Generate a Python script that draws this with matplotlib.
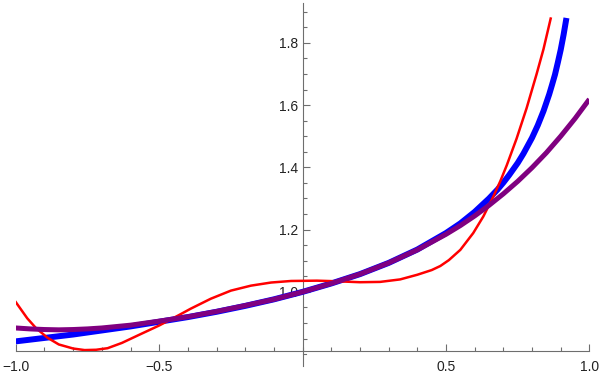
import numpy as np
import matplotlib
matplotlib.use("Agg")
import matplotlib.pyplot as plt
from matplotlib.ticker import MultipleLocator

# values
blue_x = [-1.0, -0.9, -0.8, -0.7, -0.6, -0.5, -0.4, -0.3, -0.2, -0.1, 0.0, 0.1, 0.2, 0.3,
          0.4, 0.5, 0.55, 0.6, 0.65, 0.68, 0.7, 0.72, 0.75, 0.77, 0.8, 0.82, 0.84, 0.85,
          0.86, 0.87, 0.88, 0.89, 0.9, 0.91, 0.92]
blue_y = [0.841, 0.852, 0.863, 0.876, 0.889, 0.904, 0.919, 0.936, 0.955, 0.976, 1.0, 1.027,
          1.057, 1.093, 1.136, 1.189, 1.220, 1.257, 1.300, 1.329, 1.351, 1.375, 1.414, 1.444,
          1.495, 1.535, 1.581, 1.608, 1.635, 1.666, 1.698, 1.737, 1.778, 1.826, 1.880]

red_x = [-1.0, -0.96, -0.93, -0.89, -0.85, -0.80, -0.76, -0.72, -0.68, -0.63, -0.57, -0.50,
         -0.43, -0.39, -0.32, -0.25, -0.18, -0.11, -0.04, 0.05, 0.12, 0.2, 0.27, 0.34, 0.40,
         0.45, 0.48, 0.51, 0.55, 0.595, 0.63, 0.665, 0.69, 0.712, 0.746, 0.781, 0.816, 0.84,
         0.865]
red_y = [0.967, 0.915, 0.884, 0.853, 0.831, 0.818, 0.813, 0.814, 0.819, 0.836, 0.862, 0.892,
         0.926, 0.946, 0.978, 1.004, 1.020, 1.030, 1.035, 1.036, 1.034, 1.031, 1.032, 1.040,
         1.055, 1.070, 1.083, 1.102, 1.135, 1.189, 1.242, 1.306, 1.357, 1.407, 1.492, 1.590,
         1.700, 1.780, 1.878]

purple_x = [-1.0, -0.95, -0.9, -0.85, -0.8, -0.75, -0.7, -0.6, -0.5, -0.4, -0.3, -0.2, -0.1,
            0.0, 0.1, 0.2, 0.3, 0.4, 0.5, 0.55, 0.6, 0.65, 0.7, 0.75, 0.8, 0.85, 0.9, 0.95,
            1.0]
purple_y = [0.884, 0.881, 0.879, 0.878, 0.879, 0.881, 0.884, 0.893, 0.906, 0.920, 0.937,
            0.956, 0.976, 1.0, 1.027, 1.057, 1.093, 1.135, 1.185, 1.213, 1.244, 1.278, 1.315,
            1.355, 1.399, 1.447, 1.500, 1.557, 1.619]

xticks = [-1.0, -0.5, 0.5, 1.0]
yticks = [1.0, 1.2, 1.4, 1.6, 1.8]

plt.rcParams['font.family'] = ['Liberation Sans', 'DejaVu Sans']

fig = plt.figure(figsize=(6, 3.77), dpi=100)
ax = fig.add_axes([15.8/600, 26.3/377, 573.6/600, 347.7/377])

ax.plot(blue_x, blue_y, color=(0, 0, 1), lw=4.3, zorder=3, solid_capstyle='butt',
        solid_joinstyle='round')
ax.plot(red_x, red_y, color=(1, 0, 0), lw=1.8, zorder=3, solid_joinstyle='round')
ax.plot(purple_x, purple_y, color=(0.5, 0, 0.5), lw=3.6, zorder=3, solid_capstyle='butt',
        solid_joinstyle='round')

ax.set_xlim(-1, 1)
ax.set_ylim(0.811, 1.928)

axis_col = '#6e6e6e'
for s in ['top', 'right']:
    ax.spines[s].set_visible(False)
ax.spines['left'].set_position(('data', 0))
for s in ['left', 'bottom']:
    ax.spines[s].set_color(axis_col)
    ax.spines[s].set_linewidth(0.8)

ax.set_xticks(xticks)
ax.set_xticklabels(['\u22121.0', '\u22120.5', '0.5', '1.0'])
ax.set_yticks(yticks)
ax.set_yticklabels(['1.0', '1.2', '1.4', '1.6', '1.8'])
ax.xaxis.set_minor_locator(MultipleLocator(0.1))
ax.yaxis.set_minor_locator(MultipleLocator(0.05))
ax.tick_params(which='both', direction='in', color=axis_col, width=0.8, labelsize=10,
               labelcolor='#222222')
ax.tick_params(which='major', length=5)
ax.tick_params(which='minor', length=3)
ax.tick_params(axis='x', pad=7)
ax.tick_params(axis='y', pad=3)

# small piece of the y axis below the x axis, with its tick
ax.plot([0, 0], [0.762, 0.811], color=axis_col, lw=0.8, clip_on=False)
ax.plot([0, 0.012], [0.8, 0.8], color=axis_col, lw=0.8, clip_on=False)

fig.savefig("out.png", dpi=100)
